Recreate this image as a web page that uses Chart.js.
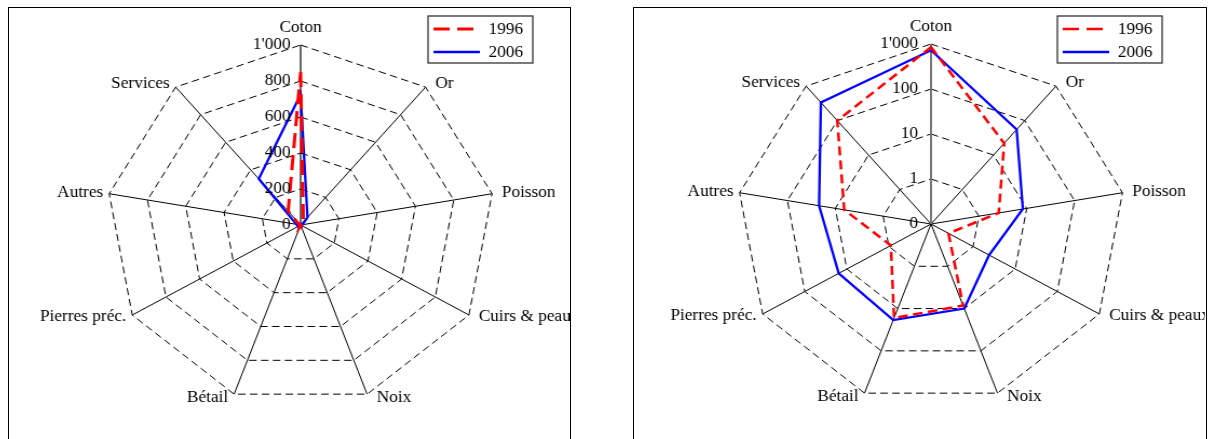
<!DOCTYPE html>
<html>
<head>
<meta charset="utf-8">
<script src="https://cdn.jsdelivr.net/npm/chart.js@4/dist/chart.umd.min.js"></script>
<style>
  html, body { margin: 0; padding: 0; background: #fff; width: 1215px; height: 439px; overflow: hidden; position: relative; }
  .frame { position: absolute; top: 7px; height: 480px; border: 1px solid #000; box-sizing: border-box; }
  .plot { position: absolute; top: 0; height: 439px; transform: scaleX(1.08); transform-origin: 0 0; }
  canvas { display: block; }
</style>
</head>
<body>
<div class="frame" style="left:8px;width:563px"></div>
<div class="frame" style="left:633px;width:574px"></div>
<div class="plot" style="left:9px"><canvas id="linearRadar" width="519" height="439"></canvas></div>
<div class="plot" style="left:634px"><canvas id="logRadar" width="529" height="439"></canvas></div>
<script>
// Export categories, clockwise from the top
const categories = ['Coton', 'Or', 'Poisson', 'Cuirs & peaux', 'Noix', 'Bétail', 'Pierres préc.', 'Autres', 'Services'];
const years = ['1996', '2006'];
const exports1996 = [850, 22, 2.6, 0.26, 8.5, 16.7, 0.9, 6.5, 100];
const exports2006 = [725, 55, 8.3, 2.4, 10, 18.7, 15.6, 21.8, 335];

// Ring labels
const linearTickLabels = ['0', '200', '400', '600', '800', "1'000"];
const logTickLabels = ['0', '1', '10', '100', "1'000"];

const FONT = "16px 'Liberation Serif'";

// Tick labels left of the top axis, category labels beside each vertex, framed legend
const radarText = {
  id: 'radarText',
  afterDraw(chart, args, opts) {
    const scale = chart.scales.r;
    const ctx = chart.ctx;
    const n = chart.data.labels.length;
    ctx.save();
    ctx.font = FONT;
    ctx.fillStyle = '#000';
    ctx.textBaseline = 'middle';

    ctx.textAlign = 'right';
    scale.ticks.forEach(t => {
      const d = scale.getDistanceFromCenterForValue(t.value);
      ctx.fillText(t.label, scale.xCenter - opts.tickGap, scale.yCenter - d);
    });

    chart.data.labels.forEach((label, i) => {
      const p = scale.getPointPosition(i, scale.drawingArea);
      const a = i * 2 * Math.PI / n;
      const s = Math.sin(a), c = Math.cos(a);
      let x = p.x, y = p.y - 4 * c;
      if (Math.abs(s) < 1e-6) {
        ctx.textAlign = 'center';
        y = p.y - 17.5;
      } else if (s > 0) {
        ctx.textAlign = 'left';
        x += 9;
      } else {
        ctx.textAlign = 'right';
        x -= 5.5;
      }
      ctx.fillText(label, x, y);
    });

    const lg = opts.legend;
    ctx.lineWidth = 1.3;
    ctx.strokeStyle = '#333';
    ctx.setLineDash([]);
    ctx.strokeRect(lg.x, lg.y, lg.w, lg.h);
    ctx.textAlign = 'left';
    chart.data.datasets.forEach((ds, i) => {
      const ry = lg.y + 13 + i * 23;
      ctx.save();
      ctx.strokeStyle = ds.borderColor;
      ctx.lineWidth = ds.borderWidth;
      ctx.setLineDash(ds.legendDash || []);
      ctx.beginPath();
      ctx.moveTo(lg.x + 5, ry);
      ctx.lineTo(lg.x + 48, ry);
      ctx.stroke();
      ctx.restore();
      ctx.fillText(ds.label, lg.x + 56, ry + 1);
    });
    ctx.restore();
  }
};

function makeDatasets(map, redWidth, redDash) {
  return [
    { label: years[0], data: exports1996.map(map), borderColor: '#ff0000', borderWidth: redWidth,
      borderDash: redDash, legendDash: [15, 7], fill: false, pointRadius: 0, tension: 0 },
    { label: years[1], data: exports2006.map(map), borderColor: '#0000ff', borderWidth: 2.3,
      fill: false, pointRadius: 0, tension: 0 }
  ];
}

function radarOptions(min, max, step, tickLabels, padding, axisColor, axisWidth, tickGap, legend) {
  return {
    responsive: false,
    animation: false,
    devicePixelRatio: 1,
    layout: { padding },
    plugins: {
      legend: { display: false },
      tooltip: { enabled: false },
      radarText: { tickGap, legend }
    },
    scales: {
      r: {
        min, max,
        ticks: { display: false, stepSize: step, callback: (v, i) => tickLabels[i] },
        pointLabels: { display: false },
        grid: { circular: false, color: '#000', lineWidth: 1 },
        border: { dash: [7, 4] },
        angleLines: {
          color: c => (c.index === 0 ? axisColor : '#000'),
          lineWidth: c => (c.index === 0 ? axisWidth : 1)
        }
      }
    }
  };
}

new Chart(document.getElementById('linearRadar'), {
  type: 'radar',
  data: { labels: categories, datasets: makeDatasets(v => v, 3, [15, 7]) },
  options: radarOptions(0, 1000, 200, linearTickLabels,
    { left: 90, right: 69, top: 45, bottom: 34 }, '#000', 1.2, 9.3,
    { x: 388, y: 16, w: 97, h: 47 }),
  plugins: [radarText]
});

new Chart(document.getElementById('logRadar'), {
  type: 'radar',
  data: { labels: categories, datasets: makeDatasets(Math.log10, 2.5, [9, 5]) },
  options: radarOptions(-1, 3, 1, logTickLabels,
    { left: 95, right: 74, top: 44, bottom: 35 }, '#777', 2, 12,
    { x: 392, y: 16, w: 97, h: 47 }),
  plugins: [radarText]
});
</script>
</body>
</html>
